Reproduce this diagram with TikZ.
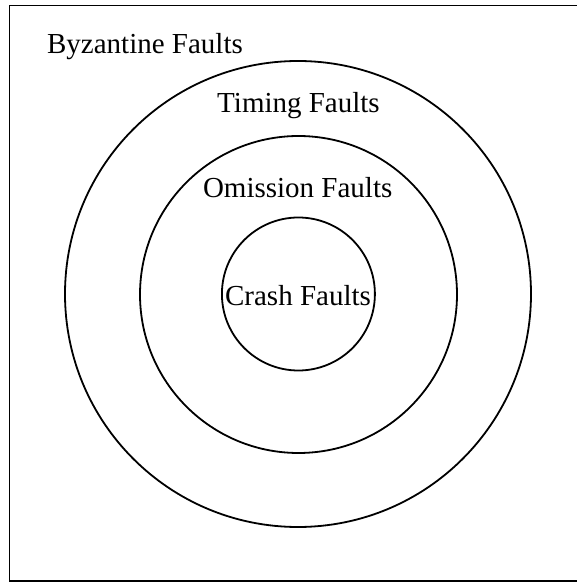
\documentclass[tikz,border=0pt]{standalone}
\usepackage{fontspec}
\setmainfont{Liberation Serif}
\begin{document}
\begin{tikzpicture}[x=1pt,y=1pt,
  ring/.style={draw=black,line width=1.8pt,circle,inner sep=0pt},
  lbl/.style={anchor=base,inner sep=0pt,font=\fontsize{29}{34}\selectfont}]
\useasboundingbox (0,0) rectangle (577,582);
\node[draw=black,line width=1.8pt,rectangle,inner sep=0pt,minimum width=569pt,minimum height=575.5pt] (frame) at (294,288.8) {};
\node[ring,minimum size=466pt] (byz) at (298,288) {};
\node[ring,minimum size=317pt] (tim) at (298.5,287.5) {};
\node[ring,minimum size=153pt] (cra) at (298.4,288) {};
\node[lbl] (tByz) at (145,528.2) {Byzantine Faults};
\node[lbl] (tTim) at (298.5,469) {Timing Faults};
\node[lbl] (tOmi) at (297.7,384.5) {Omission Faults};
\node[lbl] (tCra) at (298,276.5) {Crash Faults};
\end{tikzpicture}
\end{document}
